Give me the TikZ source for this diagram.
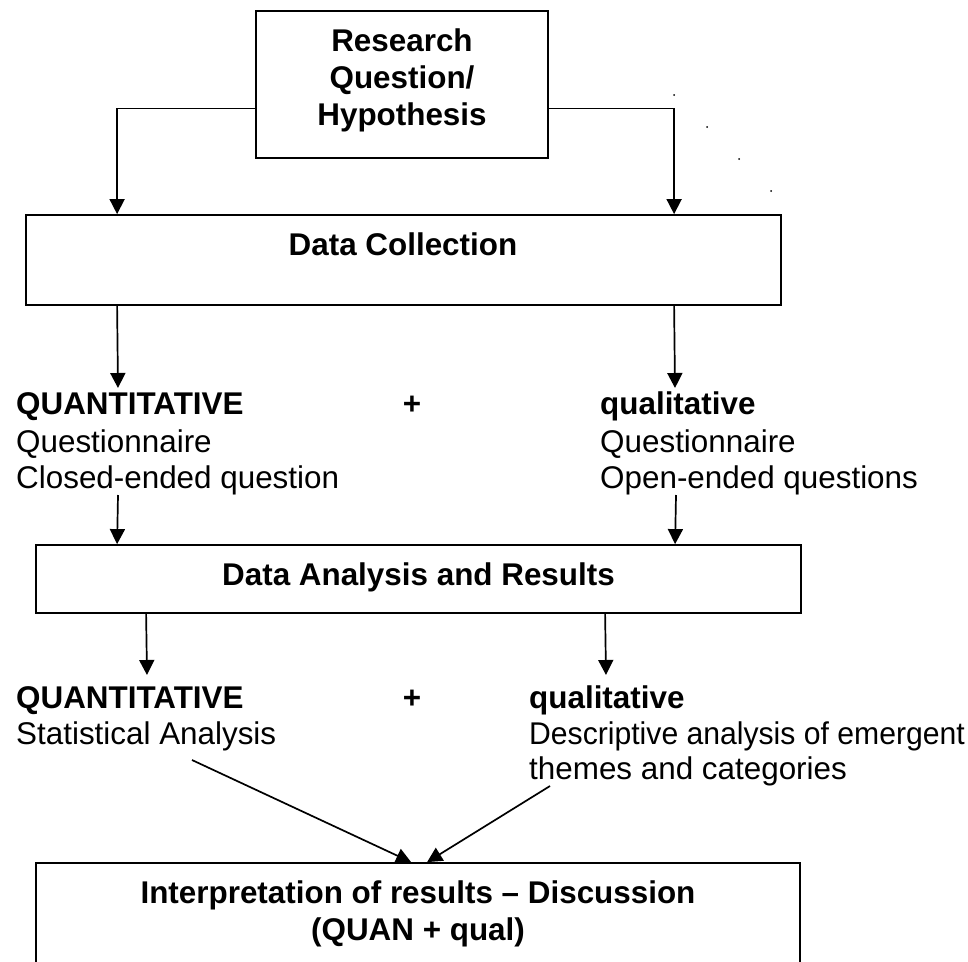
\documentclass[tikz,border=0pt]{standalone}
\usepackage{fontspec}
\usepackage{graphicx}
\setmainfont{Liberation Sans}
\usetikzlibrary{arrows.meta}
\begin{document}
\begin{tikzpicture}[x=1pt,y=-1pt,
  box/.style={draw, line width=1.8pt, inner sep=0pt},
  txt/.style={inner sep=0pt, font=\fontsize{31.4}{36}\selectfont},
  btxt/.style={inner sep=0pt, font=\fontsize{31.4}{36}\selectfont\bfseries},
  arr/.style={line width=1.7pt, -{Triangle[length=15pt,width=15pt]}},
  ]
\useasboundingbox (0,0) rectangle (968,961);
\clip (0,0) rectangle (968,961);

% boxes
\node[box, minimum width=292pt, minimum height=147pt] (rq) at (402,84.5) {};
\node[box, minimum width=755pt, minimum height=90pt] (dc) at (403.5,260) {};
\node[box, minimum width=765pt, minimum height=68pt] (da) at (418.5,579) {};
\node[box, minimum width=764pt, minimum height=127pt] (ib) at (418,926.5) {};

% box texts
\node[btxt, anchor=base] (rq1) at (402,51) {Research};
\node[btxt, anchor=base] (rq2) at (402,88) {Question/};
\node[btxt, anchor=base] (rq3) at (402,125) {Hypothesis};
\node[btxt, anchor=base] (dct) at (403,255) {Data Collection};
\node[btxt, anchor=base] (dat) at (418.5,585) {Data Analysis and Results};
\node[btxt, anchor=base] (ib1) at (418,903) {Interpretation of results – Discussion};
\node[btxt, anchor=base] (ib2) at (418,940) {(QUAN + qual)};

% collection outcomes
\node[btxt, anchor=base west] (q1) at (16,414) {QUANTITATIVE};
\node[txt, anchor=base west] (q2) at (16,452) {Questionnaire};
\node[txt, anchor=base west] (q3) at (16,488) {Closed-ended question};
\node[btxt, anchor=base] (plus1) at (412,414) {+};
\node[btxt, anchor=base west] (l1) at (600,414) {qualitative};
\node[txt, anchor=base west] (l2) at (600,452) {Questionnaire};
\node[txt, anchor=base west] (l3) at (600,488) {Open-ended questions};

% analysis outcomes
\node[btxt, anchor=base west] (a1) at (16,708) {QUANTITATIVE};
\node[txt, anchor=base west] (a2) at (16,744) {Statistical Analysis};
\node[btxt, anchor=base] (plus2) at (412,708) {+};
\node[btxt, anchor=base west] (b1) at (529,708) {qualitative};
\node[txt, anchor=base west] (b2) at (529,744) {\scalebox{0.96}[1]{Descriptive analysis of emergent}};
\node[txt, anchor=base west] (b3) at (529,779) {themes and categories};

% free connector ends
\coordinate (c1) at (118,388);
\coordinate (c2) at (675,388);
\coordinate (c3) at (118,495);
\coordinate (c4) at (676,495);
\coordinate (c5) at (147,675);
\coordinate (c6) at (606,675);
\coordinate (c7) at (192,760);
\coordinate (c8) at (550,786);

% connectors
\draw[arr] ([yshift=-24pt]rq.west) -| ([xshift=92pt]dc.north west);
\draw[arr] ([yshift=-24pt]rq.east) -| ([xshift=649pt]dc.north west);
\draw[arr] ([xshift=92pt]dc.south west) -- (c1);
\draw[arr] ([xshift=649pt]dc.south west) -- (c2);
\draw[arr] (c3) -- ([xshift=82pt]da.north west);
\draw[arr] (c4) -- ([xshift=640pt]da.north west);
\draw[arr] ([xshift=111pt]da.south west) -- (c5);
\draw[arr] ([xshift=570pt]da.south west) -- (c6);
\draw[arr] (c7) -- ([xshift=376pt]ib.north west);
\draw[arr] (c8) -- ([xshift=392pt]ib.north west);

% stray dots
\foreach \p in {(674,95),(707,127),(739,159),(771,191)}
  \fill \p circle (1pt);
\end{tikzpicture}
\end{document}
